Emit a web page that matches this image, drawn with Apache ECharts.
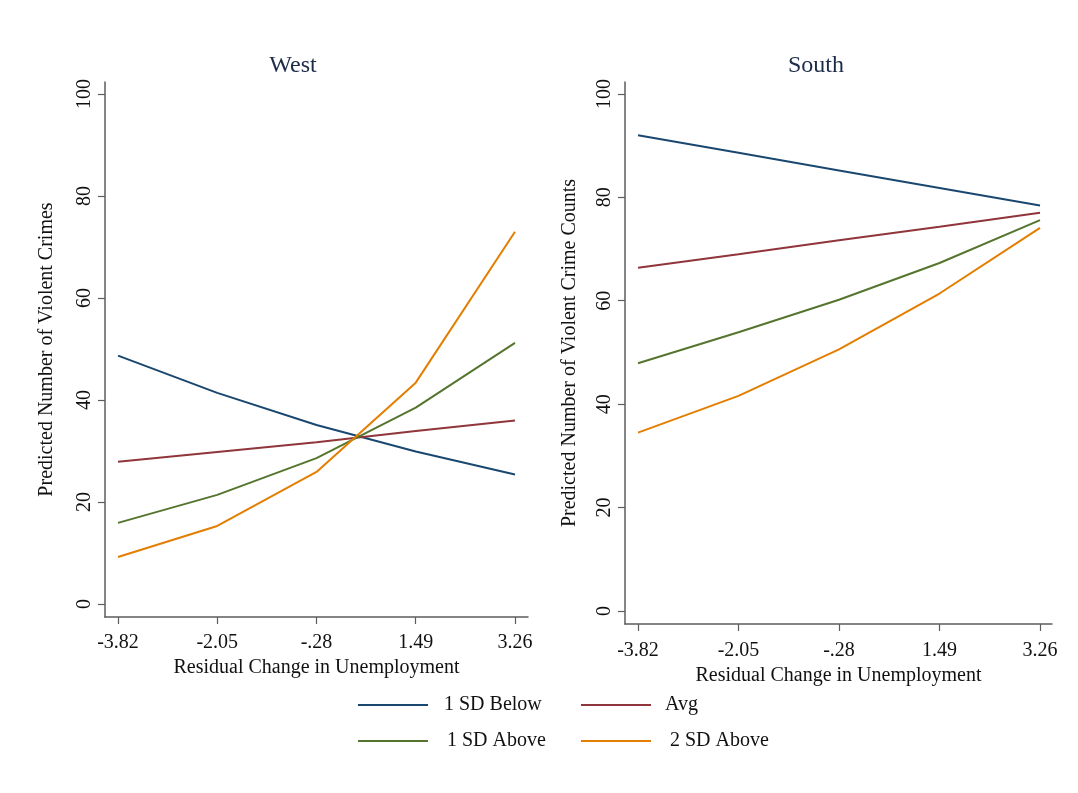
<!DOCTYPE html>
<html>
<head>
<meta charset="utf-8">
<script src="https://cdn.jsdelivr.net/npm/echarts@6/dist/echarts.min.js"></script>
<style>
html,body{margin:0;padding:0;background:#fff;}
#chart{width:1078px;height:793px;}
</style>
</head>
<body>
<div id="chart"></div>
<script>
// ---- data ----
const xVals = [-3.82, -2.05, -0.28, 1.49, 3.26];
const xLabels = ['-3.82', '-2.05', '-.28', '1.49', '3.26'];
const yTicks = [0, 20, 40, 60, 80, 100];
const seriesNames = ['1 SD Below', 'Avg', '1 SD Above', '2 SD Above'];
const panelTitles = ['West', 'South'];
const yTitles = ['Predicted Number of Violent Crimes', 'Predicted Number of Violent Crime Counts'];
const xTitle = 'Residual Change in Unemployment';

const westBelow1 = [48.7, 41.4, 35.1, 29.9, 25.4];
const westAvg    = [27.9, 29.8, 31.7, 33.9, 36.0];
const westAbove1 = [15.9, 21.4, 28.6, 38.5, 51.2];
const westAbove2 = [9.2, 15.3, 25.9, 43.4, 73.0];

const southBelow1 = [92.0, 88.6, 85.2, 81.8, 78.4];
const southAvg    = [66.4, 69.0, 71.7, 74.3, 77.0];
const southAbove1 = [47.9, 53.9, 60.2, 67.3, 75.6];
const southAbove2 = [34.5, 41.6, 50.6, 61.4, 74.1];

// ---- styling ----
const colors = ['#1a476f', '#90353b', '#55752f', '#e37e00'];
const FONT = '"Liberation Serif", "DejaVu Serif", serif';
const AXIS_COLOR = '#5c5c5c';

const panels = [
  { grid: { left: 105, top: 82, width: 423, height: 535 }, xMin: -4.052, xMax: 3.492, yMin: -2.55, yMax: 102.35,
    data: [westBelow1, westAvg, westAbove1, westAbove2], titleLeft: 288, yNameGap: 48, xNameGap: 33, xLabelMargin: 16 },
  { grid: { left: 625, top: 82, width: 427, height: 542 }, xMin: -4.049, xMax: 3.471, yMin: -2.51, yMax: 102.3,
    data: [southBelow1, southAvg, southAbove1, southAbove2], titleLeft: 811, yNameGap: 45, xNameGap: 30, xLabelMargin: 17 }
];

const option = {
  backgroundColor: '#ffffff',
  animation: false,
  title: panels.map((p, i) => ({
    text: panelTitles[i],
    left: p.titleLeft,
    top: 48,
    textAlign: 'center',
    textStyle: { fontFamily: FONT, fontSize: 24, fontWeight: 'normal', color: '#1c2c48', lineHeight: 26 }
  })),
  grid: panels.map(p => Object.assign({ containLabel: false }, p.grid)),
  xAxis: panels.map((p, i) => ({
    type: 'value', gridIndex: i, min: p.xMin, max: p.xMax,
    name: xTitle, nameLocation: 'middle', nameGap: p.xNameGap,
    nameTextStyle: { fontFamily: FONT, fontSize: 20, color: '#111', lineHeight: 20 },
    axisLine: { show: true, onZero: false, lineStyle: { color: AXIS_COLOR, width: 1.5 } },
    axisTick: { show: true, length: 7, customValues: xVals, lineStyle: { color: AXIS_COLOR, width: 1.2 } },
    axisLabel: { show: true, customValues: xVals, margin: p.xLabelMargin, fontFamily: FONT, fontSize: 20, color: '#111',
      formatter: v => { const k = xVals.indexOf(v); return k >= 0 ? xLabels[k] : ''; } },
    splitLine: { show: false }
  })),
  yAxis: panels.map((p, i) => ({
    type: 'value', gridIndex: i, min: p.yMin, max: p.yMax,
    name: yTitles[i], nameLocation: 'middle', nameGap: p.yNameGap, nameRotate: 90,
    nameTextStyle: { fontFamily: FONT, fontSize: 20, color: '#111', lineHeight: 20 },
    axisLine: { show: true, onZero: false, lineStyle: { color: AXIS_COLOR, width: 1.5 } },
    axisTick: { show: true, length: 7, customValues: yTicks, lineStyle: { color: AXIS_COLOR, width: 1.2 } },
    axisLabel: { show: true, customValues: yTicks, rotate: 90, margin: 10, fontFamily: FONT, fontSize: 20, color: '#111' },
    splitLine: { show: false }
  })),
  legend: [
    { name: seriesNames[0], left: 358, top: 695, pad: 11 },
    { name: seriesNames[1], left: 581, top: 695, pad: 9 },
    { name: seriesNames[2], left: 358, top: 731, pad: 14 },
    { name: seriesNames[3], left: 581, top: 731, pad: 14 }
  ].map(l => ({
    data: [l.name], left: l.left, top: l.top, padding: 0, orient: 'horizontal',
    icon: 'rect', itemWidth: 70, itemHeight: 2,
    selectedMode: false,
    textStyle: { fontFamily: FONT, fontSize: 20, color: '#111', lineHeight: 20, padding: [0, 0, 0, l.pad] }
  })),
  series: []
};

panels.forEach((p, i) => {
  p.data.forEach((vals, s) => {
    option.series.push({
      type: 'line', name: seriesNames[s], xAxisIndex: i, yAxisIndex: i,
      data: xVals.map((x, j) => [x, vals[j]]),
      symbol: 'none', smooth: false,
      lineStyle: { color: colors[s], width: 2 },
      itemStyle: { color: colors[s] }
    });
  });
});

const chart = echarts.init(document.getElementById('chart'), null, { renderer: 'canvas' });
chart.setOption(option);
</script>
</body>
</html>
